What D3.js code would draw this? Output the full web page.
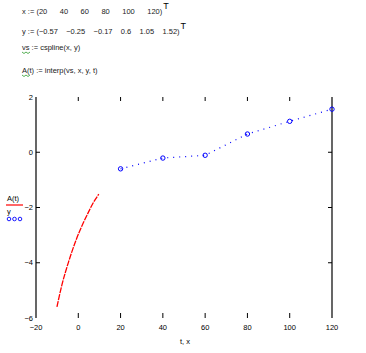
<!DOCTYPE html>
<html>
<head>
<meta charset="UTF-8">
<script src="https://d3js.org/d3.v7.min.js"></script>
<style>
  body { margin: 0; background: #fff; font-family: "Liberation Sans", Arial, sans-serif; }
  .tick-label { font-size: 7.5px; fill: #000; }
  .formula { font-size: 7.5px; fill: #222; white-space: pre; }
</style>
</head>
<body>
<svg id="chart" width="366" height="353"></svg>
<script>
// data
const xData = [20, 40, 60, 80, 100, 120];
const yData = [-0.6, -0.21, -0.11, 0.66, 1.12, 1.56];
const tCurve = [-10.1, -7.8, -4.6, -1.4, 1.8, 4.1, 7.3, 9.7];
const aCurve = [-5.6, -4.82, -3.97, -3.25, -2.65, -2.28, -1.8, -1.52];
const xTicks = [-20, 0, 20, 40, 60, 80, 100, 120];
const yTicks = [2, 0, -2, -4, -6];
const formulas = [
  "x := (20      40      60      80      100      120)",
  "y := (\u22120.57    \u22120.25    \u22120.17    0.6    1.05    1.52)",
  "vs := cspline(x, y)",
  "A(t) := interp(vs, x, y, t)"
];

const svg = d3.select("#chart");
const pLeft = 36, pRight = 332, pTop = 97, pBottom = 318;

const x = d3.scaleLinear().domain([-20, 120]).range([pLeft, pRight]);
const y = d3.scaleLinear().domain([-6, 2]).range([pBottom, pTop]);

// formula block
const fy = [14, 34, 50, 73];
const fText = formulas.map((f, i) =>
  svg.append("text").attr("class", "formula")
    .attr("x", 22).attr("y", fy[i]).text(f));
// transpose marks right after the vectors
[0, 1].forEach(i => {
  const w = fText[i].node().getComputedTextLength();
  svg.append("text").attr("x", 22 + w + 1).attr("y", fy[i] - 5).attr("font-size", 9).text("T");
});
// green squiggles under defined names
[[22, 52], [22, 75]].forEach(([sx, sy]) => {
  svg.append("path")
    .attr("d", `M${sx},${sy} l2,1.5 l2,-1.5 l2,1.5 l2,-1.5`)
    .attr("fill", "none").attr("stroke", "#2a9a2a").attr("stroke-width", 0.8);
});

// vertical frame lines
svg.append("line").attr("x1", pLeft).attr("x2", pLeft).attr("y1", pTop).attr("y2", pBottom)
  .attr("stroke", "#000").attr("stroke-width", 1.2);
svg.append("line").attr("x1", pRight).attr("x2", pRight).attr("y1", pTop).attr("y2", pBottom)
  .attr("stroke", "#000").attr("stroke-width", 1.2);

// x ticks (top and bottom, inward)
xTicks.slice(1, -1).forEach(t => {
  svg.append("line").attr("x1", x(t)).attr("x2", x(t)).attr("y1", pBottom).attr("y2", pBottom - 5)
    .attr("stroke", "#000").attr("stroke-width", 1);
  svg.append("line").attr("x1", x(t)).attr("x2", x(t)).attr("y1", pTop).attr("y2", pTop + 4)
    .attr("stroke", "#000").attr("stroke-width", 1);
});
xTicks.forEach(t => {
  svg.append("text").attr("class", "tick-label")
    .attr("x", x(t)).attr("y", 330).attr("text-anchor", "middle").text(String(t).replace("-", "\u2212"));
});

// y ticks (left and right, inward)
yTicks.slice(1, -1).forEach(v => {
  svg.append("line").attr("x1", pLeft).attr("x2", pLeft + 4).attr("y1", y(v)).attr("y2", y(v))
    .attr("stroke", "#000");
  svg.append("line").attr("x1", pRight - 4).attr("x2", pRight).attr("y1", y(v)).attr("y2", y(v))
    .attr("stroke", "#000");
});
yTicks.forEach(v => {
  svg.append("text").attr("class", "tick-label")
    .attr("x", 33).attr("y", y(v) + 2.5).attr("text-anchor", "end")
    .text(String(v).replace("-", "\u2212"));
});

// axis label
svg.append("text").attr("class", "tick-label").attr("x", 185).attr("y", 344)
  .attr("text-anchor", "middle").text("t, x");

// red curve A(t)
const curveData = tCurve.map((t, i) => ({ t, a: aCurve[i] }));
svg.append("path").datum(curveData)
  .attr("d", d3.line().x(d => x(d.t)).y(d => y(d.a)).curve(d3.curveMonotoneX))
  .attr("fill", "none").attr("stroke", "#ff0000").attr("stroke-width", 1.3)
  .attr("stroke-dasharray", "6,1");

// blue dotted line with circles
const pts = xData.map((v, i) => ({ x: v, y: yData[i] }));
svg.append("path").datum(pts)
  .attr("d", d3.line().x(d => x(d.x)).y(d => y(d.y)))
  .attr("fill", "none").attr("stroke", "#0000ff").attr("stroke-width", 1.2)
  .attr("stroke-dasharray", "1,5");
svg.selectAll(".pt").data(pts).enter().append("circle")
  .attr("class", "pt")
  .attr("cx", d => x(d.x)).attr("cy", d => y(d.y)).attr("r", 2.2)
  .attr("fill", "none").attr("stroke", "#0000ff").attr("stroke-width", 1);

// legend
svg.append("text").attr("class", "tick-label").attr("x", 7).attr("y", 201).text("A(t)");
svg.append("line").attr("x1", 6).attr("x2", 23).attr("y1", 205).attr("y2", 205)
  .attr("stroke", "#ff0000").attr("stroke-width", 1.2);
svg.append("text").attr("class", "tick-label").attr("x", 7).attr("y", 214).text("y");
[9, 14.5, 20].forEach(cx => {
  svg.append("circle").attr("cx", cx).attr("cy", 219).attr("r", 1.8)
    .attr("fill", "none").attr("stroke", "#0000ff").attr("stroke-width", 0.9);
});
</script>
</body>
</html>
